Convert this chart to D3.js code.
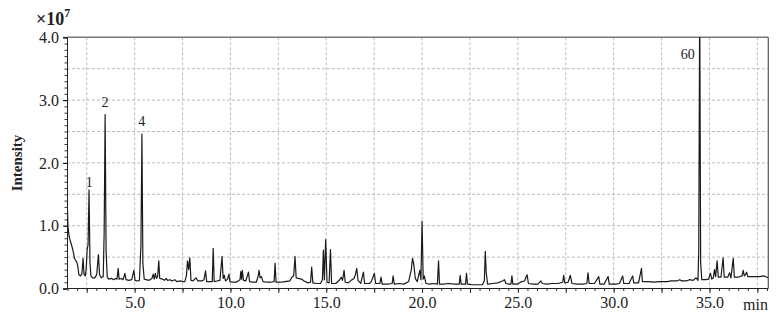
<!DOCTYPE html>
<html><head><meta charset="utf-8">
<script src="https://cdn.jsdelivr.net/npm/d3@7"></script>
<style>
body{margin:0;background:#fff}
svg{display:block}
text{font-family:"Liberation Serif","Times New Roman",serif;fill:#222}
</style>
</head><body>
<svg id="c" width="779" height="321"></svg>
<script>
// Retention time (min) and intensity (x10^7)
const retentionTimes = [1.46,1.49,1.52,1.57,1.61,1.66,1.72,1.80,1.86,1.92,1.98,2.03,2.09,2.18,2.25,2.31,2.36,2.42,2.47,2.52,2.57,2.62,2.67,
2.72,2.80,2.92,3.02,3.11,3.17,3.26,3.36,3.41,3.46,3.51,3.57,3.65,3.80,3.90,4.00,4.08,4.14,4.19,4.30,4.40,4.49,4.55,4.70,4.85,4.96,5.02,5.15,5.25,5.33,5.38,5.43,5.50,5.60,5.75,5.90,5.97,6.02,6.08,6.14,6.20,6.26,6.31,6.45,6.55,6.65,6.72,6.85,6.95,7.10,7.20,7.40,7.55,7.62,7.70,7.76,7.82,7.88,7.94,8.05,8.20,8.30,8.50,8.62,8.70,8.76,8.90,9.05,9.10,9.15,9.30,9.45,9.56,9.62,9.68,9.74,9.85,9.92,9.97,10.1,10.3,10.5,10.54,10.58,10.62,10.68,10.8,10.94,11.0,11.15,11.35,11.45,11.49,11.55,11.62,11.7,11.9,12.1,12.28,12.33,12.38,12.6,12.85,13.1,13.2,13.3,13.37,13.43,13.55,13.7,13.85,14.05,14.18,14.24,14.3,14.5,14.7,14.8,14.85,14.9,14.97,15.04,15.15,15.22,15.28,15.5,15.7,15.78,15.85,15.93,15.99,16.15,16.3,16.45,16.52,16.59,16.66,16.8,16.94,17.0,17.25,17.35,17.51,17.58,17.8,17.86,17.92,18.2,18.44,18.49,18.55,18.8,19.05,19.3,19.44,19.5,19.56,19.65,19.75,19.88,19.94,20.0,20.06,20.12,20.2,20.4,20.6,20.8,20.86,20.91,21.1,21.4,21.7,21.94,21.99,22.04,22.27,22.32,22.37,22.6,22.9,23.15,23.25,23.3,23.35,23.42,23.7,23.95,24.2,24.3,24.38,24.55,24.64,24.69,24.74,25.0,25.2,25.35,25.42,25.48,25.55,25.8,26.05,26.2,26.28,26.5,26.8,27.1,27.34,27.39,27.45,27.62,27.74,27.82,28.1,28.4,28.6,28.66,28.72,29.0,29.22,29.28,29.5,29.71,29.77,30.1,30.3,30.47,30.53,30.8,30.99,31.05,31.3,31.45,31.5,31.8,32.1,32.4,32.8,33.0,33.3,33.45,33.55,33.8,33.95,34.15,34.3,34.4,34.44,34.49,34.54,34.6,34.8,34.95,35.05,35.12,35.2,35.26,35.32,35.4,35.46,35.6,35.71,35.77,35.95,36.05,36.12,36.24,36.3,36.5,36.7,36.76,36.82,36.88,36.94,37.0,37.3,37.6,37.85,38.07];
const intensities = [1.78,1.30,1.00,0.85,0.79,0.74,0.68,0.58,0.48,0.45,0.42,0.36,0.22,0.20,0.24,0.48,0.22,0.20,0.30,0.62,0.70,1.57,0.40,
0.20,0.17,0.17,0.22,0.54,0.22,0.17,0.19,0.90,2.77,0.60,0.18,0.15,0.16,0.14,0.16,0.15,0.32,0.15,0.16,0.14,0.24,0.14,0.13,0.14,0.29,0.13,0.12,0.13,0.70,2.46,0.40,0.15,0.14,0.13,0.16,0.23,0.15,0.24,0.16,0.19,0.44,0.16,0.15,0.13,0.16,0.13,0.14,0.12,0.14,0.11,0.12,0.11,0.11,0.20,0.44,0.30,0.49,0.13,0.12,0.17,0.12,0.12,0.14,0.28,0.11,0.11,0.11,0.64,0.11,0.12,0.13,0.51,0.16,0.21,0.12,0.15,0.23,0.11,0.10,0.10,0.14,0.27,0.15,0.29,0.13,0.12,0.26,0.11,0.10,0.10,0.20,0.29,0.17,0.19,0.11,0.10,0.10,0.11,0.40,0.10,0.10,0.11,0.12,0.18,0.20,0.51,0.17,0.16,0.15,0.12,0.09,0.10,0.34,0.09,0.08,0.08,0.14,0.61,0.14,0.78,0.10,0.09,0.62,0.08,0.08,0.14,0.18,0.13,0.29,0.10,0.09,0.13,0.16,0.22,0.32,0.13,0.08,0.26,0.08,0.08,0.11,0.24,0.08,0.08,0.18,0.07,0.07,0.08,0.20,0.07,0.08,0.07,0.11,0.30,0.48,0.40,0.16,0.11,0.29,0.14,1.07,0.15,0.20,0.08,0.07,0.08,0.07,0.44,0.07,0.07,0.08,0.07,0.07,0.21,0.07,0.07,0.24,0.07,0.06,0.06,0.06,0.12,0.59,0.25,0.07,0.08,0.09,0.12,0.14,0.08,0.07,0.07,0.20,0.07,0.07,0.11,0.12,0.18,0.22,0.08,0.07,0.07,0.12,0.08,0.07,0.08,0.08,0.10,0.21,0.09,0.10,0.21,0.08,0.07,0.07,0.08,0.25,0.08,0.08,0.19,0.07,0.07,0.19,0.07,0.07,0.08,0.20,0.08,0.08,0.20,0.09,0.09,0.32,0.11,0.11,0.10,0.11,0.11,0.12,0.12,0.14,0.12,0.12,0.14,0.13,0.17,0.13,0.60,4.60,0.40,0.14,0.14,0.15,0.24,0.15,0.17,0.30,0.19,0.44,0.18,0.18,0.49,0.18,0.18,0.25,0.17,0.48,0.18,0.18,0.20,0.29,0.20,0.22,0.26,0.19,0.19,0.19,0.20,0.17];

const peakLabels = ["1","2","4","60"];
const peakLabelTimes = [2.63,3.45,5.37,33.86];
const peakLabelValues = [1.61,2.89,2.58,3.65];

const yTickValues = [0,1,2,3,4];
const yTickLabels = ["0.0","1.0","2.0","3.0","4.0"];
const xTickValues = [5,10,15,20,25,30,35];
const xTickLabels = ["5.0","10.0","15.0","20.0","25.0","30.0","35.0"];

const L=67, R=768.3, T=37.3, B=288.5;
const svg = d3.select("#c");
const x = d3.scaleLinear().domain([1.47,38.07]).range([L,R]);
const y = d3.scaleLinear().domain([0,4]).range([B,T]);

// grid
const g = svg.append("g");
g.selectAll(".vg").data(d3.range(2.5,38,2.5)).enter().append("line")
  .attr("x1",d=>x(d)).attr("x2",d=>x(d)).attr("y1",T).attr("y2",B)
  .attr("stroke","#bdbdbd").attr("stroke-width",1).attr("stroke-dasharray","3,2");
g.selectAll(".hg").data(d3.range(0.5,4,0.5)).enter().append("line")
  .attr("x1",L).attr("x2",R).attr("y1",d=>y(d)).attr("y2",d=>y(d))
  .attr("stroke","#bdbdbd").attr("stroke-width",1).attr("stroke-dasharray","3,2");

// border top/right
svg.append("line").attr("x1",L).attr("x2",R).attr("y1",T).attr("y2",T).attr("stroke","#777").attr("stroke-width",1.5);
svg.append("line").attr("x1",R).attr("x2",R).attr("y1",T).attr("y2",B).attr("stroke","#555").attr("stroke-width",1.2);

// clip
svg.append("clipPath").attr("id","pc").append("rect").attr("x",L).attr("y",T).attr("width",R-L).attr("height",B-T);

// trace
const pts = retentionTimes.map((t,i)=>[t,intensities[i]]);
svg.append("path").datum(pts).attr("clip-path","url(#pc)")
  .attr("d", d3.line().x(d=>x(d[0])).y(d=>y(d[1])))
  .attr("fill","none").attr("stroke","#1a1a1a").attr("stroke-width",1.2).attr("stroke-linejoin","round");

// y axis
const yMinor = d3.range(0,4.01,0.1).map(v=>+v.toFixed(1));
svg.append("g").attr("transform",`translate(${L},0)`)
  .call(d3.axisLeft(y).tickValues(yMinor).tickSize(2.5).tickFormat(""))
  .call(a=>a.select(".domain").remove())
  .call(a=>a.selectAll("line").attr("stroke","#333"));
svg.append("g").attr("transform",`translate(${L},0)`)
  .call(d3.axisLeft(y).tickValues(yTickValues).tickSize(4).tickPadding(4).tickFormat((d,i)=>yTickLabels[i]))
  .call(a=>a.select(".domain").attr("stroke","#222"))
  .call(a=>a.selectAll("text").attr("font-size",16).attr("font-family","Liberation Serif").attr("fill","#222"));

// x axis
const xMinor = d3.range(1.5,38.1,0.5);
svg.append("g").attr("transform",`translate(0,${B})`)
  .call(d3.axisBottom(x).tickValues(xMinor).tickSize(2.5).tickFormat(""))
  .call(a=>a.select(".domain").remove())
  .call(a=>a.selectAll("line").attr("stroke","#333"));
svg.append("g").attr("transform",`translate(0,${B})`)
  .call(d3.axisBottom(x).tickValues(d3.range(2.5,38,2.5)).tickSize(4.5).tickFormat(""))
  .call(a=>a.select(".domain").remove())
  .call(a=>a.selectAll("line").attr("stroke","#333"));
svg.append("g").attr("transform",`translate(0,${B})`)
  .call(d3.axisBottom(x).tickValues(xTickValues).tickSize(0).tickPadding(8).tickFormat((d,i)=>xTickLabels[i]))
  .call(a=>a.select(".domain").attr("stroke","#222").attr("d",`M${L},0H${R}`))
  .call(a=>a.selectAll("text").attr("font-size",16).attr("font-family","Liberation Serif").attr("fill","#222"));

// peak labels
svg.selectAll(".pl").data(peakLabels).enter().append("text")
  .attr("x",(d,i)=>x(peakLabelTimes[i])).attr("y",(d,i)=>y(peakLabelValues[i]))
  .attr("text-anchor","middle").attr("font-size",14).text(d=>d);

// axis titles
svg.append("text").attr("transform","translate(22,163) rotate(-90)").attr("text-anchor","middle")
  .attr("font-size",15).attr("font-weight","bold").text("Intensity");
const ex = svg.append("text").attr("x",36).attr("y",25).attr("font-size",18).attr("font-weight","bold");
ex.append("tspan").text("×10");
ex.append("tspan").attr("dy",-8).attr("font-size",12).text("7");
svg.append("text").attr("x",768).attr("y",310).attr("text-anchor","end").attr("font-size",16).text("min");
</script>
</body></html>
